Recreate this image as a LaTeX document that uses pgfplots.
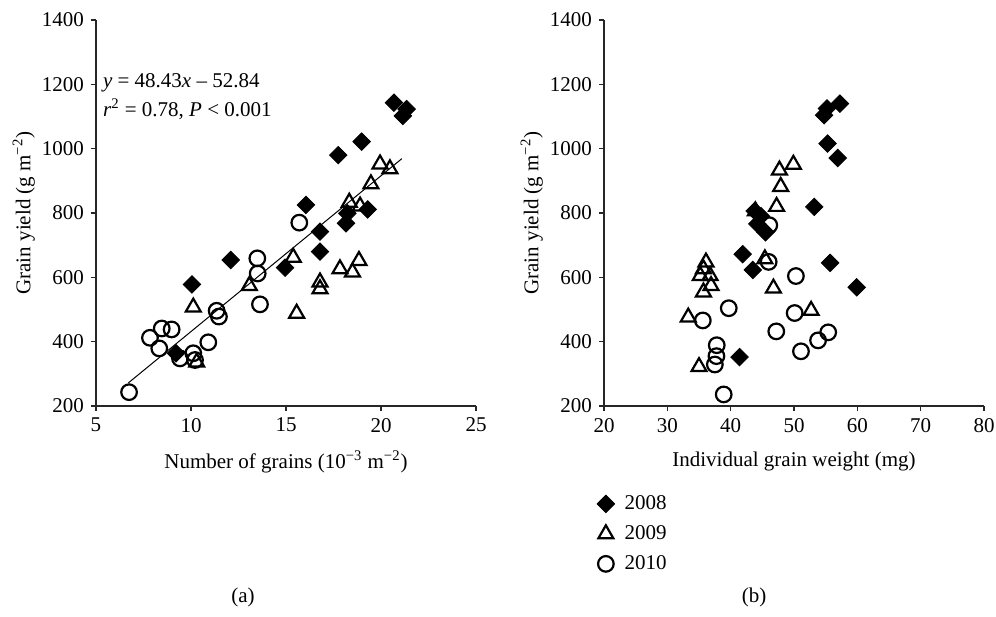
\documentclass[border=0pt]{standalone}
\usepackage{fontspec}
\setmainfont{Liberation Serif}
\usepackage{pgfplots}
\pgfplotsset{compat=1.18}

\pgfplotsset{
  panel/.style={
    scale only axis, width=190pt, height=193pt,
    axis x line*=bottom, axis y line*=left,
    tick align=outside, major tick length=2.5pt,
    axis line style={line width=0.6pt, black!85},
    tick style={line width=0.6pt, black!85},
    ymin=200, ymax=1400, ytick={200,400,...,1400},
    font=\fontsize{10.5}{12.5}\selectfont,
    /pgf/number format/assume math mode=true,
    /pgf/number format/1000 sep={},
    xlabel style={at={(axis description cs:0.5,-0.145)}, anchor=center},
    ylabel style={at={(axis description cs:-0.19,0.5)}, anchor=center},
    ylabel={Grain yield (g m\textsuperscript{−2})},
  },
  y08/.style={only marks, mark=square*, mark size=3.1pt,
    mark options={rotate=45, fill=black, draw=black}},
  y09/.style={only marks, mark=triangle, mark size=4.3pt,
    mark options={line width=1.1pt, draw=black}},
  y10/.style={only marks, mark=o, mark size=3.9pt,
    mark options={line width=1.1pt, draw=black}},
}

\begin{document}
\begin{tikzpicture}
\useasboundingbox (0,0) rectangle (498pt,308pt);

% (a) yield vs number of grains
\begin{axis}[panel, at={(48pt,105pt)}, anchor=south west,
    xmin=5, xmax=25, xtick={5,10,...,25},
    xlabel={Number of grains (10\textsuperscript{−3} m\textsuperscript{−2})}]
\addplot[y08] coordinates {(9.21,364) (10.05,578) (12.09,654) (14.95,630) (16.05,825)
  (16.79,742) (16.79,680) (17.75,980) (18.98,1022) (18.16,768) (18.23,799) (19.3,811)
  (20.68,1143) (21.35,1123) (21.15,1102)};
\addplot[y09] coordinates {(10.12,507) (10.3,336) (13.07,574) (15.38,662) (15.56,488)
  (16.79,585) (16.79,564) (17.84,626) (18.5,616) (18.84,652) (18.33,833) (18.9,821)
  (19.47,890) (19.95,952) (20.47,937)};
\addplot[y10] coordinates {(6.74,243) (7.84,412) (8.46,441) (8.98,438) (8.33,379)
  (9.42,348) (10.12,364) (10.21,343) (10.91,398) (11.35,496) (11.47,478) (13.49,659)
  (13.51,612) (13.63,516) (15.7,770)};
\addplot[black, line width=0.5pt] coordinates {(6.7,271.6) (21.1,969.0)};
\node[anchor=west, inner sep=0pt] at (axis cs:5.35,1204)
  {\textit{y} = 48.43\textit{x} – 52.84};
\node[anchor=west, inner sep=0pt] at (axis cs:5.35,1123)
  {\textit{r}\textsuperscript{2} = 0.78, \textit{P} < 0.001};
\end{axis}

% (b) yield vs individual grain weight
\begin{axis}[panel, at={(302pt,105pt)}, anchor=south west,
    xmin=20, xmax=80, xtick={20,30,...,80},
    xlabel={Individual grain weight (mg)},
    legend style={draw=none, fill=none, at={(axis description cs:-0.035,-0.21)},
      anchor=north west, row sep=2.5pt, font=\fontsize{10.5}{12.5}\selectfont,
      /tikz/every odd column/.append style={column sep=3pt}},
    legend cell align=left]
\addplot[y08] coordinates {(57.25,1140) (55.2,1125) (54.75,1104) (55.3,1016) (56.9,971)
  (53.2,819) (55.7,645) (59.9,569) (41.9,672) (43.5,623) (41.4,352) (43.8,806)
  (44.8,790) (44.2,766) (45.5,740)};
\addplot[y09] coordinates {(49.9,951) (47.7,933) (47.9,882) (47.25,820) (43.9,806)
  (45.4,657) (46.75,566) (52.7,497) (36.1,647) (35.7,626) (35.2,605) (36.75,605)
  (36.9,574) (35.7,554) (33.3,476) (35,322)};
\addplot[y10] coordinates {(46,648) (46.1,762) (50.3,604) (50.1,489) (47.2,432)
  (51.1,370) (53.8,404) (55.4,429) (39.7,504) (35.6,466) (37.8,389) (37.75,355)
  (37.5,329) (38.9,236)};
\legend{2008,2009,2010}
\end{axis}

\node[font=\fontsize{10.5}{12.5}\selectfont] at (121.5pt,9.5pt) {(a)};
\node[font=\fontsize{10.5}{12.5}\selectfont] at (377pt,9.5pt) {(b)};
\end{tikzpicture}
\end{document}
